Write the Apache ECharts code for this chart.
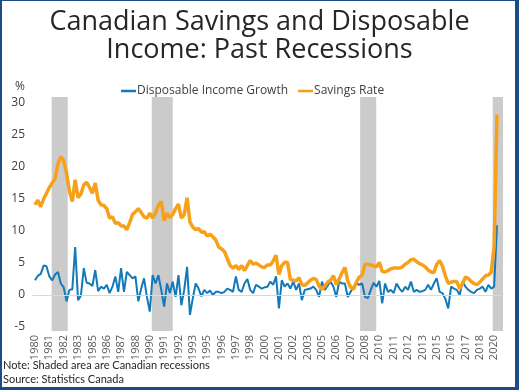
<!DOCTYPE html>
<html><head><meta charset="utf-8">
<script src="https://cdn.jsdelivr.net/npm/echarts@6/dist/echarts.min.js"></script>
<style>
html,body{margin:0;padding:0;background:#fff;}
#frame{position:absolute;left:0;top:0;width:519px;height:390px;box-sizing:border-box;border-style:solid;border-color:#1d4b88;border-width:1px 4px 3px 2px;}
#chart{position:absolute;left:0;top:0;width:519px;height:390px;}
</style></head><body>
<div id="frame"></div><div id="chart"></div>
<script>
// Quarterly categories 1980Q1 .. 2020Q2
const startYear = 1980;
const nQuarters = 162;
const categories = [];
for (let k = 0; k < nQuarters; k++) {
  categories.push((startYear + Math.floor(k / 4)) + 'Q' + (k % 4 + 1));
}

const savingsRate = [
  14.1,14.8,13.8,15.0,15.9,16.8,17.5,18.2,20.5,21.6,
  21.0,19.0,16.2,14.6,18.0,15.2,15.8,17.2,17.6,16.8,
  15.9,17.5,14.8,14.1,14.0,13.5,12.0,12.2,11.2,11.3,
  10.8,10.8,10.2,11.3,12.6,13.0,13.5,12.9,12.2,12.0,
  12.8,12.0,12.8,14.0,14.6,11.6,12.8,12.1,12.6,13.5,
  14.2,12.0,12.6,15.2,11.4,10.6,10.2,10.4,9.8,9.9,
  9.2,9.5,9.1,8.6,7.5,7.2,6.8,5.7,4.6,4.2,
  4.6,4.0,4.6,3.8,4.6,5.4,4.8,5.0,4.7,4.4,
  4.3,4.7,4.7,5.3,6.2,3.2,4.6,5.1,5.1,2.4,
  2.3,2.2,2.7,1.6,1.5,1.9,2.3,2.6,2.4,1.4,
  0.9,1.4,2.0,2.3,3.0,1.6,2.5,3.5,4.3,2.2,
  1.2,0.9,2.0,2.8,3.1,4.8,4.8,4.7,4.6,4.4,
  5.1,3.7,3.6,3.8,4.1,4.2,4.2,4.2,4.4,4.8,
  5.1,5.5,5.6,5.2,4.9,4.7,4.4,3.9,3.6,3.5,
  4.8,5.4,4.5,3.0,1.8,2.0,2.1,2.1,1.0,1.8,
  2.8,2.6,2.1,1.8,1.6,2.0,2.5,3.0,3.1,3.6,
  7.6,28.2
];

const incomeGrowth = [
  2.3,3.0,3.3,4.6,4.5,2.9,2.3,3.2,3.6,1.8,
  1.2,-1.0,0.8,0.9,7.5,-0.8,-0.1,4.2,1.9,1.8,
  1.4,3.9,0.6,1.3,1.0,1.6,0.3,1.3,2.9,0.5,
  4.2,0.5,3.6,3.1,2.6,2.9,-1.0,1.0,2.6,-0.3,
  -2.6,3.1,1.8,3.1,0.8,-1.8,1.8,0.3,2.1,-0.3,
  3.1,-1.6,0.8,4.4,-3.1,-0.5,1.8,1.0,-0.2,0.8,
  0.3,0.7,0.0,0.5,0.5,0.3,0.5,1.0,0.8,0.5,
  2.9,0.8,0.5,1.8,2.5,0.8,0.3,1.6,1.3,1.0,
  1.2,1.3,2.1,1.6,2.9,-2.1,2.3,1.3,1.8,1.0,
  2.1,0.8,1.8,-0.8,0.8,0.9,1.0,1.3,0.8,-0.3,
  2.1,0.8,1.5,2.1,1.3,-0.3,2.1,1.8,1.8,-0.3,
  0.5,1.3,1.8,1.6,1.8,-0.3,-0.5,0.8,1.9,1.3,
  2.2,-1.3,1.8,0.5,0.8,0.3,1.8,1.0,0.5,1.3,
  0.8,2.1,0.5,0.8,0.5,0.6,0.8,1.6,0.8,1.8,
  2.6,0.5,0.3,-0.6,-2.1,1.3,1.0,0.8,0.0,2.1,
  1.3,0.8,0.5,0.3,0.8,1.0,1.3,0.5,1.6,1.0,
  1.3,10.9
];

// Recession shading, in quarter-index units (0 = 1980Q1)
const recessions = [[5.8, 11.4], [40.7, 48.0], [113.3, 118.9], [159.5, 163.1]];

const yTicks = { min: -5, max: 30, step: 5 };
const seriesNames = ['Disposable Income Growth', 'Savings Rate'];
const colors = { income: '#1479b8', savings: '#f7a11a', shade: '#cbcbcb', zero: '#d9d9d9' };

// layout
const W = 519, H = 390;
const g = { left: 35, right: 22, top: 103, bottom: 63 };
const shadeTop = 97, shadeBottom = 331;
const step = (W - g.left - g.right) / (nQuarters - 1);
const pxPerUnit = (H - g.top - g.bottom) / (yTicks.max - yTicks.min);
const FONT = "'Open Sans', sans-serif";

const chart = echarts.init(document.getElementById('chart'), null, { renderer: 'canvas' });
chart.setOption({
  animation: false,
  title: {
    text: 'Canadian Savings and Disposable\nIncome: Past Recessions',
    left: 'center', top: 3,
    textStyle: { fontFamily: FONT, fontSize: 27, lineHeight: 28, fontWeight: 'normal', color: '#262626' }
  },
  legend: {
    data: seriesNames, left: 116, top: 80, icon: 'rect', itemWidth: 15, itemHeight: 2.5, itemGap: 10,
    textStyle: { fontFamily: FONT, fontSize: 12, color: '#404040', padding: [0, 0, 0, -4] }
  },
  graphic: [
    { type: 'text', left: 15, top: 81, style: { text: '%', font: "12px 'Open Sans'", fill: '#404040' } },
    { type: 'text', left: 3, top: 360, style: { text: 'Note: Shaded area are Canadian recessions', font: "11px Lato", fill: '#262626' } },
    { type: 'text', left: 3, top: 374, style: { text: 'Source: Statistics Canada', font: "11px Lato", fill: '#262626' } }
  ],
  grid: [
    { left: g.left, right: g.right, top: g.top, bottom: g.bottom },
    { left: 0, right: 0, top: shadeTop, bottom: H - shadeBottom }
  ],
  xAxis: [
    {
      type: 'category', gridIndex: 0, data: categories, boundaryGap: false,
      axisLine: { show: false }, axisTick: { show: false }, splitLine: { show: false },
      axisLabel: { interval: 4, rotate: 90, margin: 8, fontFamily: FONT, fontSize: 11, color: '#595959',
        formatter: v => v.slice(0, 4) }
    },
    { type: 'value', gridIndex: 1, show: false, min: -g.left / step, max: (W - g.left) / step, splitLine: { show: false } }
  ],
  yAxis: [
    {
      type: 'value', gridIndex: 0, min: yTicks.min, max: yTicks.max, interval: yTicks.step,
      axisLine: { show: false }, axisTick: { show: false }, splitLine: { show: false },
      axisLabel: { margin: 10, fontFamily: FONT, fontSize: 12, color: '#404040' }
    },
    {
      type: 'value', gridIndex: 1, show: false, splitLine: { show: false },
      min: yTicks.min - (shadeBottom - (H - g.bottom)) / pxPerUnit,
      max: yTicks.max + (g.top - shadeTop) / pxPerUnit
    }
  ],
  series: [
    {
      type: 'line', xAxisIndex: 1, yAxisIndex: 1, data: [], symbol: 'none', silent: true, z: 1,
      markArea: { silent: true, itemStyle: { color: colors.shade },
        data: recessions.map(r => [{ xAxis: r[0] }, { xAxis: r[1] }]) },
      markLine: { silent: true, symbol: 'none', label: { show: false },
        lineStyle: { color: colors.zero, width: 1, type: 'solid' },
        data: [[{ coord: [-1, 0] }, { coord: [163.2, 0] }]] }
    },
    {
      name: seriesNames[0], type: 'line', data: incomeGrowth, symbol: 'none', z: 3,
      color: colors.income, lineStyle: { color: colors.income, width: 2 }
    },
    {
      name: seriesNames[1], type: 'line', data: savingsRate, symbol: 'none', z: 3,
      color: colors.savings, lineStyle: { color: colors.savings, width: 3.5 }
    }
  ]
});
</script>
</body></html>
